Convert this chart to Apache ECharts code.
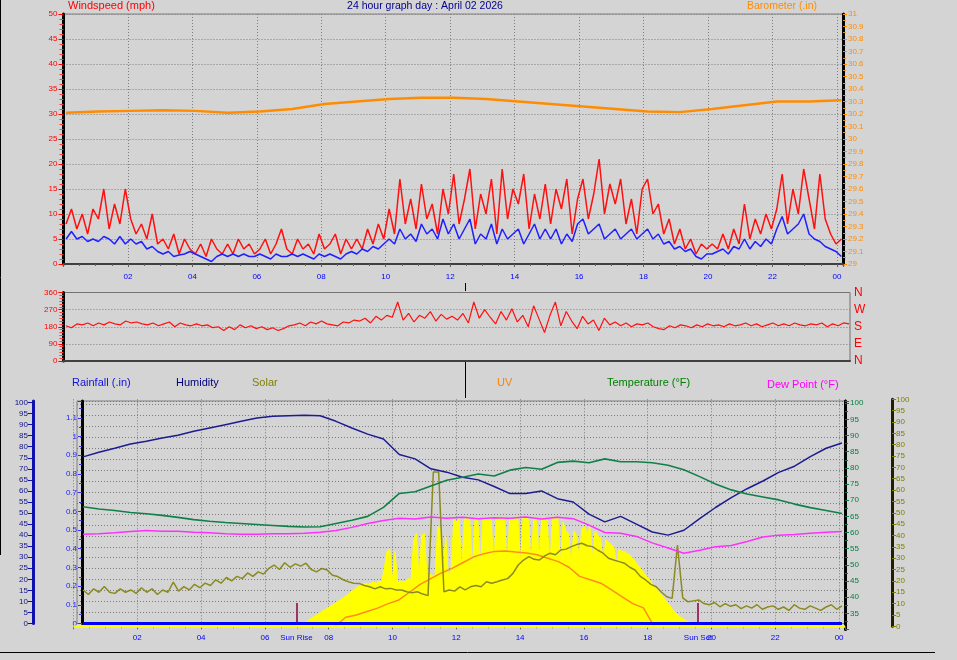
<!DOCTYPE html>
<html><head><meta charset="utf-8">
<script src="https://cdn.jsdelivr.net/npm/echarts@6/dist/echarts.min.js"></script>
<style>html,body{margin:0;padding:0;background:#d4d4d4}#c{width:957px;height:660px}</style>
</head><body><div id="c"></div><script>
// ---------- DATA ----------
const windGust = [8,11,7,10,6,11, 9,15,7,12,8,15, 9,6,8,5,10,4, 5,3,6,2,5,3, 2,4,1.5,5,3,2, 4,2,5,3,4,2,
 3,5,2,4,7,3, 2,5,3,4,2,6, 3,4,6,2,5,3, 5,3,7,4,8,5, 11,6,17,8,13,7, 16,9,12,6,15,10,
 18,8,13,19,7,14, 10,17,6,19,9,15, 12,18,7,14,9,16, 8,15,11,17,6,13, 17,9,14,21,10,16, 12,17,8,13,6,15,
 17,10,12,6,9,4, 7,3,5,2,4,3, 4,3,6,3,7,4, 12,5,9,6,10,7, 11,18,8,15,10,19, 13,7,18,9,6,4, 5];
const windAvg = [5,6.5,5,5.5,4.5,5, 4.5,5.5,5,4,5.5,4, 5,4,4.5,3,3.5,2.5, 2,2.5,1.5,1.8,2,2.5, 2,1.5,1,0.5,1.5,2, 1.5,2,1.5,2,1.5,1.5,
 2,1.5,1,2,1.5,1.5, 2,1.5,2,1.5,1,2, 1.5,2,1.5,1,2,2.5, 2,3,2.5,3.5,3,4, 5,4,7,5,6,4.5, 8,6,7,5,9,6,
 8,5,7,9,4,6, 5,8,4,7,5,6, 7,4,6,8,5,7, 5,7,4,6,4.5,8, 9,6,7,8,5,6, 7,5,6,7,5,6,
 7,5,6,4,4.5,3, 3.5,2.5,3,1.5,1,2, 2,2.5,3,2,3.5,3, 5,3,4.5,3.5,5,4, 7,9.5,6,7,8,10, 6,5,4.5,3.5,3,2.5, 1.5];
const barometer = [30.21,30.22,30.225,30.23,30.225,30.21,30.22,30.24,30.28,30.30,30.32,30.33,30.33,30.32,30.30,30.28,30.26,30.24,30.22,30.215,30.24,30.27,30.30,30.30,30.31];
const windDir = [185,175,195,190,200,185, 200,190,205,195,190,210, 200,205,195,190,200,185, 195,205,180,200,190,185,
 195,185,190,175,180,160, 180,165,190,175,185,170, 180,165,175,160,170,185, 190,200,185,205,195,210,
 195,190,185,205,200,215, 210,225,200,235,215,240, 230,310,215,250,205,240, 225,260,210,245,220,235,
 215,250,200,310,225,270, 230,195,260,215,275,205, 240,180,290,220,150,240, 310,185,260,210,170,235,
 195,215,160,225,190,205, 185,200,180,195,190,200, 180,170,165,185,175,190, 185,175,190,180,195,185,
 190,180,195,185,190,200, 185,195,180,190,200,185, 195,185,200,190,185,195, 190,200,180,195,185,200, 195];
const humidity = [75.4,77.5,79.3,81.2,82.5,84,85.2,87,88.5,90,91.5,93,93.8,94,94.2,94,91.5,88.5,85.7,83.5,76.5,74.5,70,68.5,66.2,65,62,58.8,58.8,60,56.5,55,49.5,46,48.5,45,41.4,40,42.2,47.5,52.5,57,61,64.5,68.4,71.2,75.5,79.3,81.7];
const temperature = [68,67.3,66.8,66.2,65.8,65.3,64.7,64,63.5,63.1,62.8,62.5,62.2,61.9,61.7,61.8,62.8,63.8,65,67.8,72.1,72.6,74.4,76.2,77.1,78.1,77.5,79.3,80.1,79.6,81.7,82.1,81.6,82.8,81.9,81.9,81.6,80.8,79.4,77.3,75,73.2,71.9,71,70.1,68.8,67.7,66.8,65.9];
const dewPoint = [59.5,59.6,59.9,60.3,60.6,60.4,60.4,60.1,59.9,59.6,59.5,59.5,59.6,59.6,59.8,60.1,60.6,61.6,62.8,63.7,64.4,64.2,64.8,64.4,64.7,64.3,64.6,64.4,64.8,64.2,64.7,64.3,62.3,60,59.8,58.8,56.8,55.2,53.6,54.5,55.6,56,57.2,58.6,59.2,59.4,59.8,60.1,60.3];
const rainfall = new Array(49).fill(0);
const olive = [16,14,16.5,15,17.5,15, 14.5,16.5,15,16,14.5,17, 15,16.5,14,16,15,19.5, 15.5,17.5,16,18.5,17,19,
 18,20.5,19,21.5,20,22, 21,23.5,22,24,23,25.5, 27,25,28,26,27.5,26.5, 27.8,25,24,25.5,24.8,22.5,
 21.9,20.5,19.6,19,18.9,18, 17.4,16.5,17.4,16.5,16.7,16, 16,15.2,14.8,15.2,14.2,13.5, 68,68,15.2,16,15.5,17.4,
 16,17.4,18,17.4,19.6,19, 19.6,20.4,21,23.3,27,29.2, 30.7,29.5,29.2,31,32.2,31.5, 33.6,34,35.1,36,36.6,35.5,
 35.1,33.5,32.2,30,29.2,28.5, 27.8,26,24.8,22,20.4,18.5, 17.4,15,13,12.3,35.8,12.5, 10.8,11.2,11.6,10,9.5,10.5,
 8.6,10,8.8,9.5,7.8,9, 8,9.5,7.5,8.5,9,7.5, 8.5,7,9.5,8,7.5,9, 8,7,8.5,9.5,7.5,9];
const solar = [0,0,0.3,0.6,1,2, 3,3.8,4.5,5.3,6,6.8, 7.5,8.2,9,9.7,10.5,11.3, 12,12.9,13.8,14.7,15.6,16.5,
 17.5,18,18.5,19,18.5,19, 19.5,19,20,19.5,26,33, 34,20,33,19,20,19.5, 20,21,20.5,38,41,21,
 40,41,22,23,22.5,22, 44,43,23,40,22,24, 47,46,47,24,47,48, 47,25,48,47,26,48,
 48,47,48,27,48,48, 47,48,26,48,47,48, 48,28,48,48,47,27, 48,48,30,47,48,47,
 26,48,47,48,28,46, 42,41,27,42,40,30, 43,44,41,44,30,42, 40,39,28,38,37,36,
 35,27,34,33,33,32, 31.5,30,28.5,27,25.5,24, 22.5,21,19.5,18,16.5,15, 13.5,12,10.5,9,7.5,6,
 5,4,3.2,2.5,2,1.5, 1,0.6,0.3,0];
const uvIndex = [0,4,5,6.5,8,10,11.6,15,18.5,21,23.5,25.5,28,30.5,32,33,33.2,32.7,32.3,31.5,30,28.5,26,22,20.5,19,16,13,10,8.1,0];
const sunRise = 6.99, sunSet = 19.58;
const hourTicks = ['02','04','06','08','10','12','14','16','18','20','22','00'];

// sample times in hours
function span(a, b, n){const o=[];for(let i=0;i<n;i++)o.push(a+(b-a)*i/(n-1));return o;}
function pairs(ts, vs){return vs.map((v,i)=>[ts[i], v]);}
const tTop = span(0.08, 24.14, windGust.length);
const tBaro = span(0.08, 24.14, barometer.length);
const tDir = span(0.08, 24.14, windDir.length);
const tSmooth = span(0.3, 24.09, humidity.length);
const tFine = span(0.3, 24.09, olive.length);
const tSolar = span(6.9, 19.7, solar.length);
const tUV = span(8.2, 18.2, uvIndex.length);

const F = 'Liberation Sans';
const dotted = {show:true, lineStyle:{type:[1,2], color:'#7c7c7c', width:1}};
function hourFmt(v){ if (Math.abs(v-Math.round(v))>1e-6) return ''; const h=Math.round(v); if(h<=0||h%2) return ''; return hourTicks[h/2-1]; }
const lineBase = {type:'line', showSymbol:false, symbol:'none', animation:false, silent:true};
const noZero = {onZero:false};

const option = {
  backgroundColor:'#d4d4d4',
  animation:false,
  textStyle:{fontFamily:F},
  grid:[
    {left:63.5, top:14, width:779.5, height:250, show:true, borderColor:'#808080', borderWidth:1},
    {left:63.4, top:292.5, width:786.6, height:68.5, show:true, borderColor:'#707070', borderWidth:1},
    {left:77, top:401, width:768, height:222.5, show:true, borderColor:'#808080', borderWidth:1},
    {left:73.5, top:401, width:771.5, height:228.5},
    {left:73.5, top:399.3, width:771.5, height:227}
  ],
  xAxis:[
    {type:'value', gridIndex:0, min:0, max:24.19, interval:2,
     axisLine:{onZero:false, lineStyle:{color:'#404040', width:2}}, axisTick:{length:3, lineStyle:{color:'#606060'}},
     minorTick:{show:true, splitNumber:4, length:2, lineStyle:{color:'#606060'}},
     axisLabel:{formatter:hourFmt, color:'#0000ff', fontSize:8, margin:9, showMinLabel:false},
     splitLine:dotted},
    {type:'value', gridIndex:1, min:0, max:24.17, axisLine:{onZero:false, lineStyle:{color:'#404040', width:2}},
     axisTick:{show:false}, axisLabel:{show:false}, splitLine:{show:false}},
    {type:'value', gridIndex:2, min:0.11, max:24.185, show:false, axisLine:noZero},
    {type:'value', gridIndex:3, min:0, max:24.185, show:false, axisLine:noZero},
    {type:'value', gridIndex:4, min:0, max:24.185, interval:2,
     axisLine:{show:false, onZero:false}, axisTick:{length:3, lineStyle:{color:'#606060'}},
     minorTick:{show:true, splitNumber:4, length:2, lineStyle:{color:'#606060'}},
     axisLabel:{formatter:hourFmt, color:'#0000ff', fontSize:8, margin:7, showMinLabel:false},
     splitLine:dotted}
  ],
  yAxis:[
    {type:'value', gridIndex:0, min:0, max:50, interval:5, position:'left',
     axisLine:{show:true, onZero:false, lineStyle:{color:'#000', width:3}},
     axisTick:{length:5, lineStyle:{color:'#ff0000'}}, minorTick:{show:true, splitNumber:5, length:4, lineStyle:{color:'#ff4040'}},
     axisLabel:{color:'#ff0000', fontSize:8, margin:6}, splitLine:dotted},
    {type:'value', gridIndex:0, min:29, max:31, interval:0.1, position:'right',
     axisLine:{show:true, onZero:false, lineStyle:{color:'#000', width:3}},
     axisTick:{length:4, lineStyle:{color:'#ff8c00'}}, minorTick:{show:true, splitNumber:2, length:3, lineStyle:{color:'#ff8c00'}},
     axisLabel:{color:'#ff8c00', fontSize:8, margin:5}, splitLine:{show:false}},
    {type:'value', gridIndex:1, min:0, max:360, interval:90, position:'left',
     axisLine:{show:true, onZero:false, lineStyle:{color:'#000', width:3}},
     axisTick:{length:5, lineStyle:{color:'#ff0000'}}, minorTick:{show:true, splitNumber:6, length:4, lineStyle:{color:'#ff4040'}},
     axisLabel:{color:'#ff0000', fontSize:8, margin:6}, splitLine:dotted},
    {type:'value', gridIndex:1, min:0, max:360, interval:90, position:'right',
     axisLine:{show:false, onZero:false}, axisTick:{show:false}, splitLine:{show:false},
     axisLabel:{color:'#ff0000', fontSize:12, margin:4, formatter:v=>({0:'N',90:'E',180:'S',270:'W',360:'N'})[v]||''}},
    {type:'value', gridIndex:2, min:0, max:1.19, interval:0.1, position:'left', offset:-5,
     axisLine:{show:true, onZero:false, lineStyle:{color:'#000', width:3}},
     axisTick:{length:4, lineStyle:{color:'#3030ff'}}, minorTick:{show:true, splitNumber:2, length:3, lineStyle:{color:'#3030ff'}},
     axisLabel:{color:'#2020ff', fontSize:8, margin:5, showMaxLabel:false}, splitLine:{show:false}},
    {type:'value', gridIndex:2, min:0, max:100.7, interval:5, position:'left', offset:44,
     axisLine:{show:true, onZero:false, lineStyle:{color:'#1010b0', width:3}},
     axisTick:{length:5, lineStyle:{color:'#1010b0'}},
     axisLabel:{color:'#10108a', fontSize:8, margin:5, showMaxLabel:false}, splitLine:{show:false}},
    {type:'value', gridIndex:2, min:0, max:20.3, interval:1, position:'right',
     axisLine:{show:false, onZero:false}, axisTick:{show:false}, axisLabel:{show:false}, splitLine:dotted},
    {type:'value', gridIndex:3, min:30, max:100.7, interval:5, position:'right',
     axisLine:{show:true, onZero:false, lineStyle:{color:'#000', width:3}},
     axisTick:{length:4, lineStyle:{color:'#008040'}}, minorTick:{show:true, splitNumber:2, length:3, lineStyle:{color:'#008040'}},
     axisLabel:{color:'#008040', fontSize:8, margin:5, showMaxLabel:false, formatter:v=>v<35?'':String(v)}, splitLine:{show:false}},
    {type:'value', gridIndex:4, min:0, max:100, interval:5, position:'right', offset:47,
     axisLine:{show:true, onZero:false, lineStyle:{color:'#202000', width:3}},
     axisTick:{length:4, lineStyle:{color:'#808000'}},
     axisLabel:{color:'#808000', fontSize:8, margin:4}, splitLine:{show:false}}
  ],
  series:[
    Object.assign({}, lineBase, {name:'Barometer', xAxisIndex:0, yAxisIndex:1, data:pairs(tBaro, barometer), lineStyle:{color:'#ff8c00', width:2.5}}),
    Object.assign({}, lineBase, {name:'Gust', xAxisIndex:0, yAxisIndex:0, data:pairs(tTop, windGust), lineStyle:{color:'#ff1010', width:1.5}}),
    Object.assign({}, lineBase, {name:'Wind', xAxisIndex:0, yAxisIndex:0, data:pairs(tTop, windAvg), lineStyle:{color:'#2020ff', width:1.5}}),
    Object.assign({}, lineBase, {name:'Direction', xAxisIndex:1, yAxisIndex:2, data:pairs(tDir, windDir), lineStyle:{color:'#ff1010', width:1.2}}),
    Object.assign({}, lineBase, {name:'Solar', xAxisIndex:4, yAxisIndex:8, data:pairs(tSolar, solar), lineStyle:{color:'#ffff00', width:1}, areaStyle:{color:'#ffff00', opacity:1},
      markLine:{symbol:'none', silent:true, animation:false, label:{show:false}, lineStyle:{color:'#ffff00', width:2.5, type:'solid'}, data:[{yAxis:0}]}}),
    Object.assign({}, lineBase, {name:'UV', xAxisIndex:4, yAxisIndex:8, data:pairs(tUV, uvIndex), lineStyle:{color:'#ff8c1a', width:1.5}}),
    Object.assign({}, lineBase, {name:'SolarLine', xAxisIndex:4, yAxisIndex:8, data:pairs(tFine, olive), lineStyle:{color:'#8a8a20', width:1.5}}),
    Object.assign({}, lineBase, {name:'Humidity', xAxisIndex:2, yAxisIndex:5, data:pairs(tSmooth, humidity), lineStyle:{color:'#1c1c90', width:1.5}}),
    Object.assign({}, lineBase, {name:'Temperature', xAxisIndex:3, yAxisIndex:7, data:pairs(tSmooth, temperature), lineStyle:{color:'#108048', width:1.6}}),
    Object.assign({}, lineBase, {name:'Dew Point', xAxisIndex:3, yAxisIndex:7, data:pairs(tSmooth, dewPoint), lineStyle:{color:'#ff30ff', width:1.5}}),
    Object.assign({}, lineBase, {name:'Rainfall', xAxisIndex:2, yAxisIndex:4, data:pairs(tSmooth, rainfall), lineStyle:{color:'#0000ff', width:3}, z:5,
      markLine:{symbol:'none', silent:true, animation:false, lineStyle:{color:'#a03068', width:2, type:'solid'},
        label:{show:true, position:'start', distance:10, formatter:'{b}', color:'#0000ff', fontSize:8},
        data:[[{name:'Sun Rise', coord:[sunRise,0]},{coord:[sunRise,0.11]}],[{name:'Sun Set', coord:[sunSet,0]},{coord:[sunSet,0.11]}]]}})
  ],
  graphic:[
    {type:'text', left:68, top:0, style:{text:'Windspeed (mph)', fill:'#ff0000', font:'11px Liberation Sans'}},
    {type:'text', x:425, y:1, style:{text:'24 hour graph day : April 02 2026', fill:'#000090', font:'10.5px Liberation Sans', textAlign:'center'}},
    {type:'text', left:747, top:1, style:{text:'Barometer (.in)', fill:'#ff8c00', font:'10.5px Liberation Sans'}},
    {type:'text', left:72, top:377, style:{text:'Rainfall (.in)', fill:'#1010e0', font:'11px Liberation Sans'}},
    {type:'text', left:176, top:377, style:{text:'Humidity', fill:'#000080', font:'11px Liberation Sans'}},
    {type:'text', left:252, top:377, style:{text:'Solar', fill:'#808000', font:'11px Liberation Sans'}},
    {type:'text', left:497, top:377, style:{text:'UV', fill:'#ff8000', font:'11px Liberation Sans'}},
    {type:'text', left:607, top:377, style:{text:'Temperature (°F)', fill:'#008000', font:'11px Liberation Sans'}},
    {type:'text', left:767, top:379, style:{text:'Dew Point (°F)', fill:'#ff00ff', font:'11px Liberation Sans'}},
    {type:'line', shape:{x1:465.5, y1:283, x2:465.5, y2:291}, style:{stroke:'#000', lineWidth:1}},
    {type:'line', shape:{x1:465.5, y1:362, x2:465.5, y2:398}, style:{stroke:'#000', lineWidth:1}},
    {type:'line', shape:{x1:0.5, y1:0, x2:0.5, y2:555}, style:{stroke:'#000', lineWidth:1}},
    {type:'line', shape:{x1:0, y1:652.5, x2:935, y2:652.5}, style:{stroke:'#000', lineWidth:1}}
  ]
};
const chart = echarts.init(document.getElementById('c'));
chart.setOption(option);
</script></body></html>
